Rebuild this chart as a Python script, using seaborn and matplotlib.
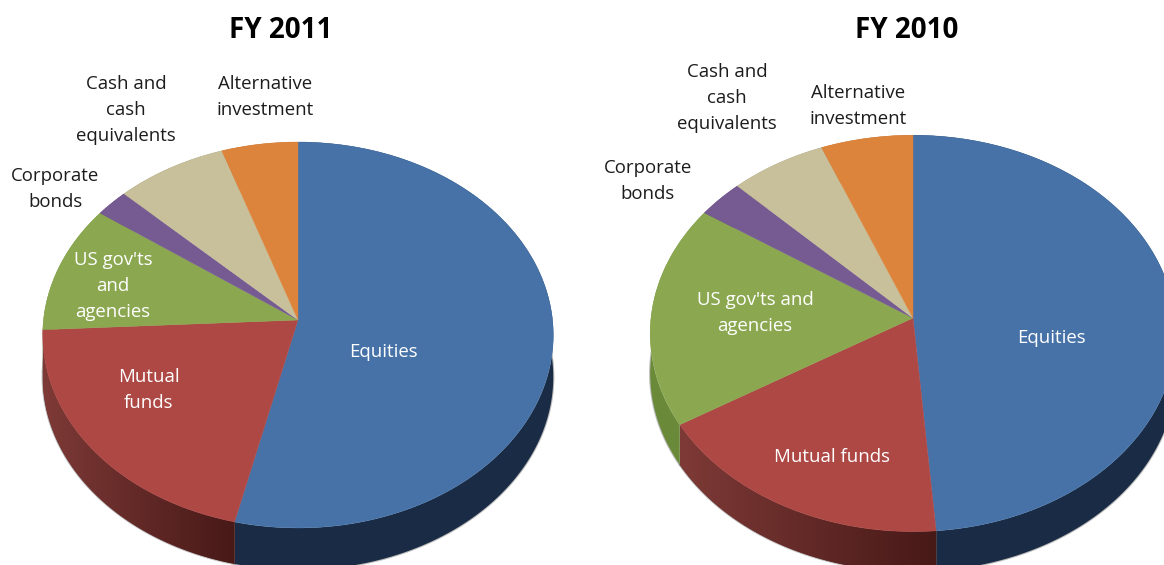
import numpy as np
import seaborn as sns
import matplotlib
matplotlib.use('Agg')
import matplotlib.pyplot as plt
from matplotlib.colors import LinearSegmentedColormap
from matplotlib.patches import Polygon

categories = ['Equities', 'Mutual funds', "US gov'ts and agencies", 'Corporate bonds',
              'Cash and cash equivalents', 'Alternative investment']
values_2011 = [53.7, 20.5, 10.7, 2.3, 7.6, 5.2]
values_2010 = [48.7, 17.6, 18.1, 3.1, 6.4, 6.1]

labels_2011 = ['Equities', 'Mutual\nfunds', "US gov'ts\nand\nagencies", 'Corporate\nbonds',
               'Cash and\ncash\nequivalents', 'Alternative\ninvestment']
labels_2010 = ['Equities', 'Mutual funds', "US gov'ts and\nagencies", 'Corporate\nbonds',
               'Cash and\ncash\nequivalents', 'Alternative\ninvestment']
label_pos_2011 = [(383, 352), (149, 390), (113, 286), (55, 189), (126, 110), (265, 97)]
label_pos_2010 = [(1051, 338), (832, 457), (755, 313), (648, 181), (727, 98), (858, 106)]
label_white = [True, True, True, False, False, False]

top_colors = ['#4672A8', '#AD4845', '#8BA851', '#765A92', '#C7C09B', '#DD843C']
side_colors = ['#1A2C45', '#5E2522', '#6A8A3A', '#4A3560', '#8C8668', '#A05E28']

sns.set_theme(style='white')
plt.rcParams['font.family'] = ['Open Sans', 'DejaVu Sans']

K = 0.0777  # fake perspective, back of the pie is squeezed


def project(x, y, cx, cy, a, b):
    w = 1 + K * y
    return cx + a * x / w, cy - b * y / w


def draw_pie(ax, values, cx, cy, a, b, depth):
    wedges, _ = ax.pie(values, colors=top_colors, startangle=90, counterclock=False,
                       radius=1, center=(0, 0))
    for i, wedge in enumerate(wedges):
        # side wall first
        th = np.radians(np.linspace(wedge.theta1, wedge.theta2, 200))
        sx, sy = project(np.cos(th), np.sin(th), cx, cy, a, b)
        pts = np.r_[np.c_[sx, sy], np.c_[sx, sy + depth][::-1]]
        ax.plot(sx, sy + depth, color='#8f8f8f', alpha=0.6, linewidth=1.6, zorder=0.5)
        side = Polygon(pts, closed=True, facecolor=side_colors[i], edgecolor='none', zorder=1)
        ax.add_patch(side)
        if i == 1:
            # red wall gets darker towards the front
            cmap = LinearSegmentedColormap.from_list('wall', ['#7E3A37', '#471917'])
            im = ax.imshow(np.linspace(0, 1, 256)[None, :], cmap=cmap, aspect='auto',
                           extent=[sx.min(), sx.max(), sy.max() + depth, sy.min()], zorder=1.5)
            im.set_clip_path(side)

        # top face, bend the wedge from the pie
        path = wedge.get_path()
        px, py = project(path.vertices[:, 0], path.vertices[:, 1], cx, cy, a, b)
        path.vertices = np.c_[px, py]
        wedge.set_zorder(3)
        wedge.set_edgecolor(top_colors[i])
        wedge.set_linewidth(0.3)


def draw_labels(ax, labels, positions):
    for text, (x, y), white in zip(labels, positions, label_white):
        ax.text(x, y, text, ha='center', va='center', fontsize=13.4, linespacing=1.58,
                color='white' if white else '#1c1c1c', zorder=5)


fig = plt.figure(figsize=(11.64, 5.65), dpi=100)
ax = fig.add_axes([0, 0, 1, 1])

draw_pie(ax, values_2011, 298, 320, 254.5, 191.8, 42)
draw_pie(ax, values_2010, 913, 318, 262, 197, 40)
draw_labels(ax, labels_2011, label_pos_2011)
draw_labels(ax, labels_2010, label_pos_2010)

ax.text(281, 31, 'FY 2011', ha='center', va='center', fontsize=20, fontweight='bold', color='black')
ax.text(907, 31, 'FY 2010', ha='center', va='center', fontsize=20, fontweight='bold', color='black')

ax.set_aspect('auto')
ax.set_xlim(0, 1164)
ax.set_ylim(565, 0)
ax.axis('off')

plt.savefig('out.png', dpi=100)
